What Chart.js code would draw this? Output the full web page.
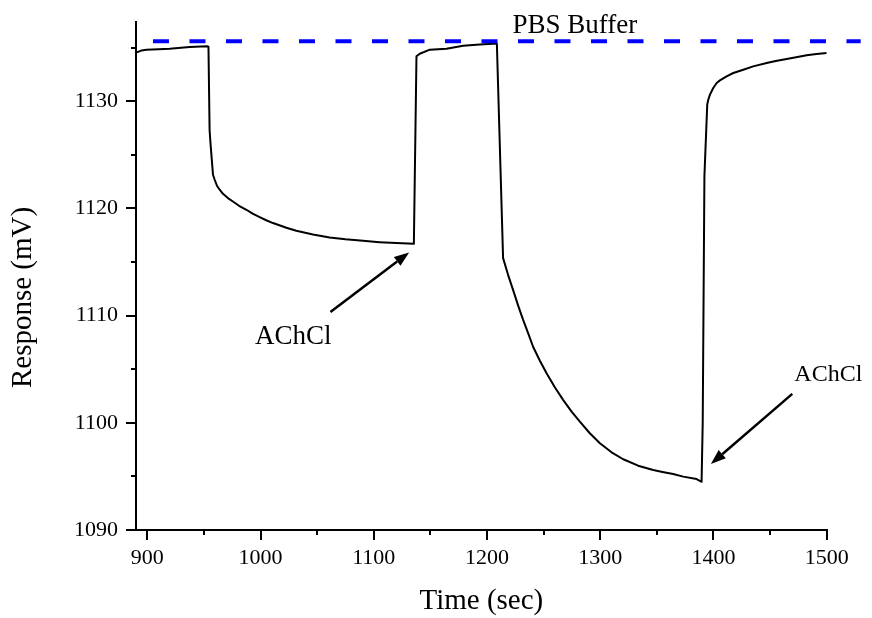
<!DOCTYPE html>
<html><head><meta charset="utf-8">
<script src="https://cdn.jsdelivr.net/npm/chart.js@4.4.0/dist/chart.umd.min.js"></script>
<style>html,body{margin:0;padding:0;background:#fff;}#wrap{width:872px;height:618px;}</style>
</head><body><div id="wrap"><canvas id="c" width="872" height="618"></canvas></div>
<script>
// ---- data ----
const timeSec = [890.8, 895, 899, 910, 919.7, 937.4, 952.7, 954, 955, 956, 958, 959.5, 961.5, 963.9, 966.8, 971.2, 975.6, 981, 987.5, 993, 999.2, 1005, 1011, 1022.8, 1031.6, 1046.3, 1061, 1075, 1090.5, 1105, 1120, 1135.4,
  1137.7, 1140.6, 1149.5, 1164.2, 1178.9, 1193.6, 1208.7, 1214.2, 1218.6, 1223, 1227.5, 1231.9, 1236.3, 1240.7, 1246.6, 1252.6, 1259.9, 1267.2, 1274.7, 1282, 1290.8, 1299.7, 1310, 1320.3, 1333.5, 1346.8, 1355, 1364.4, 1373.3, 1385.1, 1389.5,
  1390.5, 1392, 1394.5, 1395.4, 1396.9, 1399.8, 1402.8, 1405.7, 1411.6, 1417.5, 1426.3, 1435.1, 1447, 1455, 1464.6, 1473, 1482.3, 1491, 1500];
const responseMV = [1134.57, 1134.75, 1134.8, 1134.85, 1134.9, 1135.07, 1135.13, 1135.1, 1127.3, 1125.8, 1123.15, 1122.68, 1122.12, 1121.75, 1121.37, 1120.97, 1120.65, 1120.25, 1119.88, 1119.52, 1119.2, 1118.9, 1118.64, 1118.2, 1117.92, 1117.57, 1117.29, 1117.12, 1116.98, 1116.86, 1116.77, 1116.7,
  1134.2, 1134.44, 1134.82, 1134.91, 1135.19, 1135.31, 1135.4, 1115.37, 1113.81, 1112.4, 1110.94, 1109.6, 1108.37, 1107.1, 1105.81, 1104.63, 1103.32, 1102.14, 1101.05, 1100.11, 1099.03, 1098.1, 1097.25, 1096.6, 1096.0, 1095.6, 1095.42, 1095.23, 1094.98, 1094.75, 1094.5,
  1100, 1123, 1129.7, 1130.15, 1130.62, 1131.24, 1131.71, 1131.95, 1132.33, 1132.64, 1132.95, 1133.26, 1133.57, 1133.76, 1133.95, 1134.12, 1134.29, 1134.41, 1134.51];
const bufferTime = [905, 1530];
const bufferLevel = [1135.6, 1135.6];
const xTickValues = [900, 1000, 1100, 1200, 1300, 1400, 1500];
const yTickValues = [1090, 1100, 1110, 1120, 1130];
const xMinorTicks = [950, 1050, 1150, 1250, 1350, 1450];
const yMinorTicks = [1095, 1105, 1115, 1125, 1135];
const xTitle = 'Time (sec)';
const yTitle = 'Response (mV)';
const noteTexts = ['PBS Buffer', 'AChCl', 'AChCl'];
const noteAnchorT = [1277.6, 995, 1471.4];
const noteAnchorV = [1136.42, 1107.37, 1103.94];
const arrowTail = [[1061.7, 1110.33], [1469.6, 1102.7]];
const arrowTip = [[1131.2, 1115.9], [1397.7, 1096.16]];

const FONT = '"Liberation Serif", "Times New Roman", serif';

const decor = {
  id: 'decor',
  afterDatasetsDraw(chart) {
    const {ctx, chartArea: ca} = chart;
    const x = chart.scales.x, y = chart.scales.y;
    ctx.save();
    ctx.strokeStyle = '#000';
    ctx.lineWidth = 2;
    xMinorTicks.forEach(v => {
      const px = Math.round(x.getPixelForValue(v));
      ctx.beginPath(); ctx.moveTo(px, ca.bottom); ctx.lineTo(px, ca.bottom + 5); ctx.stroke();
    });
    yMinorTicks.forEach(v => {
      const py = Math.round(y.getPixelForValue(v));
      ctx.beginPath(); ctx.moveTo(ca.left, py); ctx.lineTo(ca.left - 5, py); ctx.stroke();
    });
    // arrows
    ctx.fillStyle = '#000';
    arrowTail.forEach((t, i) => {
      const x0 = x.getPixelForValue(t[0]), y0 = y.getPixelForValue(t[1]);
      const x1 = x.getPixelForValue(arrowTip[i][0]), y1 = y.getPixelForValue(arrowTip[i][1]);
      const ang = Math.atan2(y1 - y0, x1 - x0);
      const hl = 15, hw = 5.5;
      const bx = x1 - hl * Math.cos(ang), by = y1 - hl * Math.sin(ang);
      ctx.lineWidth = 2.5;
      ctx.beginPath(); ctx.moveTo(x0, y0); ctx.lineTo(bx, by); ctx.stroke();
      ctx.beginPath();
      ctx.moveTo(x1, y1);
      ctx.lineTo(bx + hw * Math.sin(ang), by - hw * Math.cos(ang));
      ctx.lineTo(bx - hw * Math.sin(ang), by + hw * Math.cos(ang));
      ctx.closePath(); ctx.fill();
    });
    // notes
    ctx.textBaseline = 'alphabetic';
    noteTexts.forEach((t, i) => {
      ctx.font = (i === 2 ? '24px ' : '27px ') + FONT;
      ctx.textAlign = i === 0 ? 'center' : 'left';
      ctx.fillText(t, x.getPixelForValue(noteAnchorT[i]), y.getPixelForValue(noteAnchorV[i]));
    });
    // y title
    ctx.save();
    ctx.font = '29px ' + FONT;
    ctx.textAlign = 'center';
    ctx.textBaseline = 'alphabetic';
    ctx.translate(31, y.getPixelForValue(1111.7));
    ctx.rotate(-Math.PI / 2);
    ctx.fillText(yTitle, 0, 0);
    ctx.restore();
    ctx.restore();
  }
};

new Chart(document.getElementById('c'), {
  type: 'line',
  data: {
    datasets: [
      {
        data: bufferTime.map((t, i) => ({x: t, y: bufferLevel[i]})),
        borderColor: '#0000FF', borderWidth: 4, borderDash: [16, 20.5],
        pointRadius: 0, tension: 0, clip: false, order: 0
      },
      {
        data: timeSec.map((t, i) => ({x: t, y: responseMV[i]})),
        borderColor: '#000000', borderWidth: 2, pointRadius: 0, tension: 0,
        borderJoinStyle: 'round', order: 1
      }
    ]
  },
  options: {
    responsive: false,
    devicePixelRatio: 1,
    animation: false,
    layout: {padding: {left: 0, top: 22, right: 45.3, bottom: 0}},
    plugins: {legend: {display: false}, tooltip: {enabled: false}},
    scales: {
      x: {
        type: 'linear', min: 890, max: 1500,
        afterBuildTicks: s => { s.ticks = xTickValues.map(v => ({value: v})); },
        afterFit: s => { s.height = 88; s.paddingLeft = 0; s.paddingRight = 0; },
        ticks: {color: '#000', font: {family: FONT, size: 22, lineHeight: 1.2}, padding: 5, maxRotation: 0, autoSkip: false, callback: v => String(v)},
        grid: {drawOnChartArea: false, drawTicks: true, tickLength: 10, color: '#000', lineWidth: 2},
        border: {display: true, color: '#000', width: 2},
        title: {display: true, text: xTitle, color: '#000', font: {family: FONT, size: 29, lineHeight: 1}, padding: {top: 0, bottom: 2}}
      },
      y: {
        type: 'linear', min: 1090, max: 1137.4,
        afterBuildTicks: s => { s.ticks = yTickValues.map(v => ({value: v})); },
        afterFit: s => { s.width = 136; s.paddingTop = 0; s.paddingBottom = 0; },
        ticks: {color: '#000', font: {family: FONT, size: 22, lineHeight: 1.2}, padding: 8, autoSkip: false, callback: v => String(v)},
        grid: {drawOnChartArea: false, drawTicks: true, tickLength: 10, color: '#000', lineWidth: 2},
        border: {display: true, color: '#000', width: 2},
        title: {display: false}
      }
    }
  },
  plugins: [decor]
});
</script>
</body></html>
